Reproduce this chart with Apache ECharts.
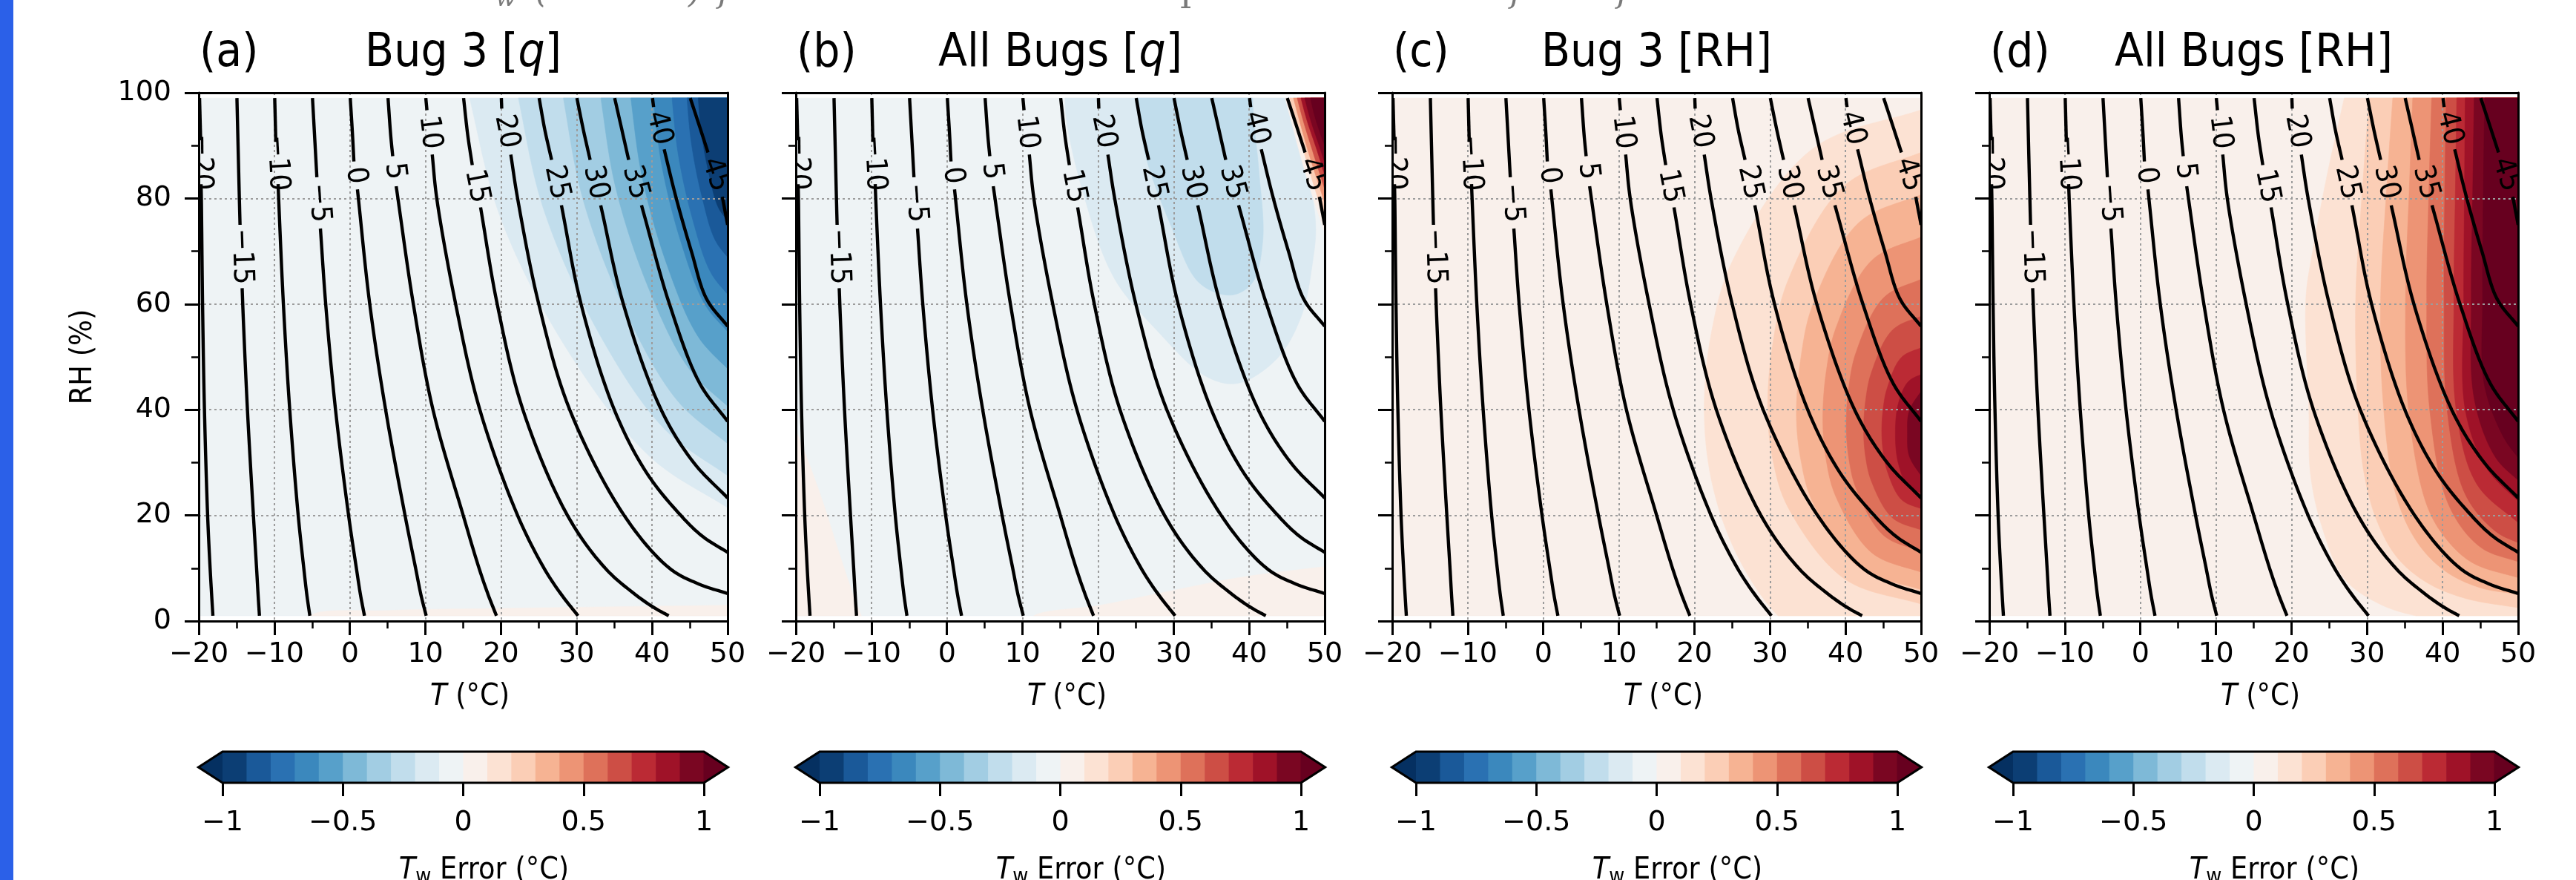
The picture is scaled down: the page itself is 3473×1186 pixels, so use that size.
<!DOCTYPE html>
<html>
<head>
<meta charset="utf-8">
<title>Tw error panels</title>
<script src="https://cdn.jsdelivr.net/npm/echarts@6.0.0/dist/echarts.min.js"></script>
<style>
html,body{margin:0;padding:0;background:#fff;}
#chart{width:3473px;height:1186px;}
</style>
</head>
<body>
<div id="chart"></div>
<script>
// ================= DATA =================
const panelLetters = ['(a)', '(b)', '(c)', '(d)'];
const panelNames = ['Bug 3 [{i|q}]', 'All Bugs [{i|q}]', 'Bug 3 [RH]', 'All Bugs [RH]'];
const T_RANGE = [-20, 50];
const RH_RANGE = [0, 100];
const FIELD_RH = [1, 99];
const T_INTERVAL = 10;
const RH_INTERVAL = 20;
const cbarLevels = [-1, -0.9, -0.8, -0.7, -0.6, -0.5, -0.4, -0.3, -0.2, -0.1, 0, 0.1, 0.2, 0.3, 0.4, 0.5, 0.6, 0.7, 0.8, 0.9, 1];
const cbarInterval = 0.5;

// Wet-bulb temperature isolines: [T, RH]; null = gap where the inline label sits
const twLevels = [-20, -15, -10, -5, 0, 5, 10, 15, 20, 25, 30, 35, 40, 45];
const tw_m20 = [[-19.9,99],[-19.75,91],null,[-19.7,82.7],[-19.66,80],[-19.5,60],[-19.25,40],[-18.83,20],[-18.5,10],[-18.3,5],[-18.13,1]];
const tw_m15 = [[-14.95,99],[-14.8,90],[-14.63,80],[-14.54,75],null,[-14.26,63],[-14.1,57],[-13.56,40],[-12.77,20],[-12.35,10],[-12.15,5],[-11.97,1]];
const tw_m10 = [[-9.95,99],[-9.8,90.7],null,[-9.5,82.7],[-9.4,79],[-8.8,60],[-7.96,40],[-6.84,20],[-6.1,10],[-5.7,5],[-5.3,1]];
const tw_m5 = [[-4.95,99],[-4.6,90],[-4.37,84],null,[-3.9,74.3],[-3.2,60],[-1.9,40],[-0.17,20],[0.86,10],[1.4,5],[1.93,1]];
const tw_0 = [[0.05,99],[0.35,92],[0.53,87],null,[1.0,81.7],[2.63,60],[4.73,40],[7.3,20],[8.7,10],[9.4,5],[10.1,1]];
const tw_5 = [[5.05,99],[5.4,92],[5.67,88],null,[6.13,82.3],[8.4,60],[11.0,40],[15.0,20],[17.1,10],[18.3,5],[19.4,1]];
const tw_10 = [[10.05,99],[10.2,96.7],null,[10.9,88.3],[11.5,80],[14.0,60],[17.2,40],[22.2,20],[25.7,10],[28.0,5],[30.2,1]];
const tw_15 = [[15.05,99],[15.6,92],[16.2,86.3],null,[17.3,78.3],[19.5,60],[22.9,40],[28.8,20],[33.8,10],[37.8,5],[40.3,2.5],[42.2,1]];
const tw_20 = [[20.05,99],[20.1,97],null,[21.3,88.3],[22.2,80],[25.0,60],[29.1,40],[36.3,20],[42.3,10],[46.2,7],[50,5.2]];
const tw_25 = [[25.05,99],[25.8,93],[26.7,87.3],null,[28.0,78.7],[30.6,60],[35.0,40],[39.3,28],[43.8,20],[46.7,16],[50,13]];
const tw_30 = [[30.05,99],[30.9,93],[31.8,87.3],null,[33.2,78.7],[36.2,60],[41.2,40],[45.5,30],[50,23.3]];
const tw_35 = [[35.05,99],[36.0,93],[36.9,87.3],null,[38.6,78.7],[42.3,60],[46.3,45],[50,37.8]];
const tw_40 = [[40.05,99],[40.2,97.3],null,[41.6,89.3],[43.2,80],[45.2,70],[47.2,61],[50,55.8]];
const tw_45 = [[45.05,99],[46.2,94],[47.4,88.7],null,[49.3,80.3],[50,75]];
const twLines = [tw_m20, tw_m15, tw_m10, tw_m5, tw_0, tw_5, tw_10, tw_15, tw_20, tw_25, tw_30, tw_35, tw_40, tw_45];

// Filled error contours. bin k = interval [-1+0.1k, -0.9+0.1k); -1 = below -1, 20 = above 1.
// Each entry: [bin, boundary curve [T,RH]..., straight closing corners]
const bgBin = [9, 9, 10, 10];
const fillA = [
  [10, [[-6,-1],[-5,1.2],[5,2.0],[20,2.4],[35,2.7],[50.5,3.0]], [[50.5,-1]]],
  [8, [[15.5,101],[19.95,76.3],[28.75,51.4],[39.65,31.2],[50.5,21]], [[50.5,101]]],
  [7, [[22,101],[25.61,78.1],[32.75,55.03],[41.6,36.42],[50.5,27]], [[50.5,101]]],
  [6, [[28,101],[30.84,79.9],[36.45,58.73],[43.4,41.64],[50.5,33]], [[50.5,101]]],
  [5, [[33,101],[35.19,82],[39.53,63.04],[44.9,47.74],[50.5,40]], [[50.5,101]]],
  [4, [[37,101],[38.68,84.1],[41.99,67.35],[46.1,53.84],[50.5,47]], [[50.5,101]]],
  [3, [[40,101],[41.29,86.2],[43.84,71.66],[47,59.93],[50.5,54]], [[50.5,101]]],
  [2, [[42.5,101],[43.47,88.3],[45.38,75.98],[47.75,66.03],[50.5,61]], [[50.5,101]]],
  [1, [[44.5,101],[45.21,90.4],[46.61,80.29],[48.35,72.13],[50.5,68]], [[50.5,101]]],
  [0, [[46,101],[46.52,92.5],[47.54,84.6],[48.8,78.2],[50.5,75]], [[50.5,101]]]
];
const fillB = [
  [10, [[-20.5,38],[-18.3,30],[-16.3,22],[-14.3,13],[-12.4,5],[-11,0],[-10.5,-1]], [[-20.5,-1]]],
  [10, [[10.5,-1],[11.5,1],[20.3,3],[29.6,5.7],[39,8.3],[50.5,10.4]], [[50.5,-1]]],
  [8, [[15.6,101],[15.8,95],[17.9,81.7],[22.1,65],[27.8,55],[34.3,46.3],[38.5,45],[43.7,49.7],[46.9,57.7],[48.4,68],[48.8,75],[47.6,86],[46,94],[45.3,101]], []],
  [7, [[24.8,101],[25.5,95],[26.3,88],[29.6,75],[33.4,64],[37.6,61.7],[40.4,64],[41.8,72],[41.3,85],[40.6,95],[40.4,101]], []],
  [10, [[44.4,101],[45.5,95],[47,87],[48.7,79],[50.5,71.5]], [[50.5,101]]],
  [12, [[45.0,101],[46.1,95],[47.5,87.5],[49.1,80],[50.5,74]], [[50.5,101]]],
  [14, [[45.5,101],[46.6,95],[48,88],[50.5,77]], [[50.5,101]]],
  [16, [[46.0,101],[47.1,95],[48.5,88.5],[50.5,79.5]], [[50.5,101]]],
  [18, [[46.5,101],[47.6,95],[49,89],[50.5,82]], [[50.5,101]]],
  [19, [[47.0,101],[48.1,95],[49.5,89],[50.5,84.5]], [[50.5,101]]],
  [20, [[47.8,101],[48.8,95],[50.5,88]], [[50.5,101]]]
];
const fillC = [
  [11, [[50.5,97],[35.65,89.4],[25.15,68.5],[22.28,54.8],[21.3,40],[22.28,26.5],[25.15,14],[29.7,3.2],[35.65,-5]], [[50.5,-12]]],
  [12, [[50.5,89],[39.85,82.4],[32.4,64.5],[30.4,52.7],[29.7,40],[30.4,30.4],[32.4,21.5],[39.85,8.0],[50.5,3]], []],
  [13, [[50.5,81],[41.75,75.4],[35.7,60],[34.1,49.9],[33.5,39],[34.1,30.4],[35.7,22.35],[41.75,10.2],[50.5,5.7]], []],
  [14, [[50.5,73],[43.5,68.3],[38.74,55.5],[37.44,47.1],[37,38],[37.44,30.5],[38.74,23.5],[43.5,12.9],[50.5,9]], []],
  [15, [[50.5,65],[45.05,61.2],[41.43,51],[40.44,44.3],[40.1,37],[40.44,30.8],[41.43,25],[45.05,16.2],[50.5,13]], []],
  [16, [[50.5,58],[46.2,55.05],[43.42,47],[42.66,41.7],[42.4,36],[42.66,31.1],[43.42,26.5],[46.2,19.55],[50.5,17]], []],
  [17, [[50.5,52],[47.4,49.9],[45.5,44],[44.98,40.1],[44.8,36],[44.98,32.1],[45.5,28.5],[47.4,23],[50.5,21]], []],
  [18, [[50.5,47],[48.3,45.3],[47.0,41.2],[46.6,35.5],[47.0,29.8],[48.3,25.5],[50.5,24]], []],
  [19, [[50.5,44.5],[48.45,39.8],[48.2,35.5],[48.45,31.2],[50.5,26.5]], []]
];
const fillD = [
  [11, [[27.3,101],[24.8,85],[22.8,70],[21.9,61],[22.3,40],[22.5,28],[24,18],[27,8],[32,3],[38,0.5],[44,-1]], [[50.5,-1],[50.5,101]]],
  [12, [[30.4,101],[29.4,82],[28.5,61],[28.8,40],[29.6,28],[31.3,19],[34,12],[37.9,7.3],[43,4.3],[50.5,2.4]], [[50.5,101]]],
  [13, [[33.5,101],[32.6,82],[31.8,61],[32.1,42],[33.8,24],[36.6,15],[40.3,9.5],[45,6.3],[50.5,5]], [[50.5,101]]],
  [14, [[36.1,101],[35.6,82],[35.1,61],[35.5,40],[37.9,22],[40.5,15.5],[44,11],[50.5,8]], [[50.5,101]]],
  [15, [[38.6,101],[38.2,82],[37.9,61],[38.3,40],[40.8,22],[45,14],[50.5,11]], [[50.5,101]]],
  [16, [[40.5,101],[40.3,82],[40.2,61],[40.6,40],[43,24],[47,17],[50.5,14.5]], [[50.5,101]]],
  [17, [[41.9,101],[41.7,82],[41.5,61],[41.8,40],[44.5,26],[50.5,18]], [[50.5,101]]],
  [18, [[43.0,101],[42.9,82],[42.8,61],[43.0,40],[45.8,29],[50.5,22]], [[50.5,101]]],
  [19, [[44.2,101],[44,82],[43.8,61],[44.2,42],[47,31],[50.5,26]], [[50.5,101]]],
  [20, [[45.6,101],[45.4,82],[45.3,61],[45.5,45],[48,35],[50.5,30]], [[50.5,101]]]
];
const panelFills = [fillA, fillB, fillC, fillD];

// ================= LAYOUT / STYLE =================
const FONT = 'DejaVu Sans';
const PL = [268, 1073, 1877, 2682];
const PW = 713, PT = 125, PH = 712;
const CB_TOP = 1013, CB_H = 42;
const TXT_SX = 0.92;   // the reference's lettering is slightly condensed

const RDBU_R = ['#053061','#2166ac','#4393c3','#92c5de','#d1e5f0','#f7f7f7','#fddbc7','#f4a582','#d6604d','#b2182b','#67001f'];
function hex2rgb(h) { return [1,3,5].map(i => parseInt(h.substr(i,2),16)); }
function cmap(t) {
  t = Math.min(1, Math.max(0, t));
  const s = t * (RDBU_R.length - 1);
  const i = Math.min(Math.floor(s), RDBU_R.length - 2);
  const f = s - i;
  const a = hex2rgb(RDBU_R[i]), b = hex2rgb(RDBU_R[i+1]);
  return 'rgb(' + a.map((v,j) => Math.round(v + (b[j]-v)*f)).join(',') + ')';
}
function binColor(k) { return k < 0 ? cmap(0) : (k >= 20 ? cmap(1) : cmap((k + 0.5) / 20)); }
function fmt(v) { return v < 0 ? '\u2212' + (-v) : String(v); }

// centripetal Catmull-Rom densification (pixel space)
function crPoint(p0, p1, p2, p3, u) {
  const d = (a, b) => Math.max(Math.pow(Math.hypot(b[0]-a[0], b[1]-a[1]), 0.5), 1e-4);
  const t0 = 0, t1 = t0 + d(p0,p1), t2 = t1 + d(p1,p2), t3 = t2 + d(p2,p3);
  const t = t1 + (t2 - t1) * u;
  const L = (a, b, ta, tb) => [(tb-t)/(tb-ta)*a[0] + (t-ta)/(tb-ta)*b[0], (tb-t)/(tb-ta)*a[1] + (t-ta)/(tb-ta)*b[1]];
  const A1 = L(p0,p1,t0,t1), A2 = L(p1,p2,t1,t2), A3 = L(p2,p3,t2,t3);
  const B1 = L(A1,A2,t0,t2), B2 = L(A2,A3,t1,t3);
  return L(B1,B2,t1,t2);
}
function spline(P, n) {
  n = n || 12;
  if (P.length < 3) return P.slice();
  const first = [2*P[0][0]-P[1][0], 2*P[0][1]-P[1][1]];
  const m = P.length;
  const last = [2*P[m-1][0]-P[m-2][0], 2*P[m-1][1]-P[m-2][1]];
  const E = [first].concat(P, [last]);
  const out = [];
  for (let i = 0; i < m - 1; i++) {
    for (let k = 0; k < n; k++) out.push(crPoint(E[i], E[i+1], E[i+2], E[i+3], k / n));
  }
  out.push(P[m-1]);
  return out;
}
function clipPoly(poly, x0, y0, x1, y1) {
  const edges = [
    [p => p[0] >= x0, (a,b) => [x0, a[1] + (x0-a[0])/(b[0]-a[0])*(b[1]-a[1])]],
    [p => p[0] <= x1, (a,b) => [x1, a[1] + (x1-a[0])/(b[0]-a[0])*(b[1]-a[1])]],
    [p => p[1] >= y0, (a,b) => [a[0] + (y0-a[1])/(b[1]-a[1])*(b[0]-a[0]), y0]],
    [p => p[1] <= y1, (a,b) => [a[0] + (y1-a[1])/(b[1]-a[1])*(b[0]-a[0]), y1]]
  ];
  let out = poly;
  for (const [inside, inter] of edges) {
    const inp = out; out = [];
    if (!inp.length) break;
    for (let i = 0; i < inp.length; i++) {
      const cur = inp[i], prev = inp[(i + inp.length - 1) % inp.length];
      const ci = inside(cur), pi = inside(prev);
      if (ci) { if (!pi) out.push(inter(prev, cur)); out.push(cur); }
      else if (pi) out.push(inter(prev, cur));
    }
  }
  return out;
}

// ================= OPTION =================
const grids = [], xAxes = [], yAxes = [], series = [], graphics = [];
const axisBlack = { color: '#000', width: 3 };

for (let p = 0; p < 4; p++) grids.push({ left: PL[p], top: PT, width: PW, height: PH });
for (let p = 0; p < 4; p++) grids.push({ left: PL[p] + 32, top: CB_TOP, width: 649, height: CB_H });

for (let p = 0; p < 4; p++) {
  xAxes.push({
    gridIndex: p, type: 'value', min: T_RANGE[0], max: T_RANGE[1], interval: T_INTERVAL, z: 3,
    axisLine: { show: true, onZero: false, lineStyle: axisBlack },
    axisTick: { show: true, length: 19, lineStyle: { color: '#000', width: 3 } },
    minorTick: { show: true, splitNumber: 2, length: 10, lineStyle: { color: '#000', width: 2.5 } },
    axisLabel: { fontSize: 38, fontFamily: FONT, color: '#000', margin: 26, formatter: fmt },
    splitLine: { show: true, lineStyle: { color: '#9c9c9c', width: 2, type: [3, 4] } }
  });
  xAxes.push({
    gridIndex: p, type: 'value', position: 'top', min: T_RANGE[0], max: T_RANGE[1], z: 3,
    axisLine: { show: true, onZero: false, lineStyle: axisBlack },
    axisTick: { show: false }, axisLabel: { show: false }, splitLine: { show: false }
  });
  yAxes.push({
    gridIndex: p, type: 'value', min: RH_RANGE[0], max: RH_RANGE[1], interval: RH_INTERVAL, z: 3,
    axisLine: { show: true, onZero: false, lineStyle: axisBlack },
    axisTick: { show: true, length: 19, lineStyle: { color: '#000', width: 3 } },
    minorTick: { show: true, splitNumber: 2, length: 10, lineStyle: { color: '#000', width: 2.5 } },
    axisLabel: { show: p === 0, fontSize: 38, fontFamily: FONT, color: '#000', margin: 37 },
    splitLine: { show: true, lineStyle: { color: '#9c9c9c', width: 2, type: [3, 4] } }
  });
  yAxes.push({
    gridIndex: p, type: 'value', position: 'right', min: RH_RANGE[0], max: RH_RANGE[1], z: 3,
    axisLine: { show: true, onZero: false, lineStyle: axisBlack },
    axisTick: { show: false }, axisLabel: { show: false }, splitLine: { show: false }
  });

  // filled contours
  const shapes = [[bgBin[p], null, null]].concat(panelFills[p]);
  series.push({
    type: 'custom', xAxisIndex: 2*p, yAxisIndex: 2*p, z: 1, silent: true, animation: false,
    data: shapes.map(() => [0, 50]),
    renderItem: function (params, api) {
      const sh = shapes[params.dataIndex];
      const c0 = api.coord([T_RANGE[0], FIELD_RH[1]]);
      const c1 = api.coord([T_RANGE[1], FIELD_RH[0]]);
      let pts;
      if (!sh[1]) {
        pts = [c0, [c1[0], c0[1]], c1, [c0[0], c1[1]]];
      } else {
        pts = spline(sh[1].map(q => api.coord(q)), 14);
        (sh[2] || []).forEach(q => pts.push(api.coord(q)));
        pts = clipPoly(pts, c0[0], c0[1], c1[0], c1[1]);
      }
      return { type: 'polygon', shape: { points: pts }, style: { fill: binColor(sh[0]), stroke: binColor(sh[0]), lineWidth: 0.6 } };
    }
  });

  // Tw isolines with inline labels
  series.push({
    type: 'custom', xAxisIndex: 2*p, yAxisIndex: 2*p, z: 5, clip: true, silent: true, animation: false,
    data: twLines.map(() => [0, 50]),
    renderItem: function (params, api) {
      const line = twLines[params.dataIndex];
      const segs = []; let cur = [];
      line.forEach(q => { if (q === null) { segs.push(cur); cur = []; } else cur.push(api.coord(q)); });
      segs.push(cur);
      const children = segs.filter(s => s.length > 1).map(s => ({
        type: 'polyline', shape: { points: spline(s, 12) },
        style: { stroke: '#000', lineWidth: 4.4, fill: null, lineJoin: 'round', lineCap: 'butt' }
      }));
      if (segs.length > 1) {
        const a = segs[0][segs[0].length - 1], b = segs[1][0];
        const cx = (a[0] + b[0]) / 2, cy = (a[1] + b[1]) / 2;
        const rot = -Math.atan2(b[1] - a[1], b[0] - a[0]);
        children.push({
          type: 'text', x: cx, y: cy, rotation: rot, scaleX: TXT_SX,
          style: { text: fmt(twLevels[params.dataIndex]), fontSize: 39, fontFamily: FONT, fill: '#000', align: 'center', verticalAlign: 'middle' }
        });
      }
      return { type: 'group', children: children };
    }
  });
}

for (let p = 0; p < 4; p++) {
  const gi = 4 + p;
  xAxes.push({
    gridIndex: gi, type: 'value', min: cbarLevels[0], max: cbarLevels[cbarLevels.length - 1], interval: cbarInterval,
    axisLine: { show: false }, splitLine: { show: false },
    axisTick: { show: true, length: 18, lineStyle: { color: '#000', width: 3 } },
    axisLabel: { fontSize: 38, fontFamily: FONT, color: '#000', margin: 35, formatter: fmt }
  });
  yAxes.push({ gridIndex: gi, type: 'value', min: 0, max: 1, show: false });
  const items = [];
  for (let k = -1; k <= 20; k++) items.push(k);
  items.push('outline');
  series.push({
    type: 'custom', xAxisIndex: 8 + p, yAxisIndex: 8 + p, z: 3, silent: true, animation: false,
    data: items.map(() => [0, 0.5]),
    renderItem: function (params, api) {
      const k = items[params.dataIndex];
      const lo = cbarLevels[0], hi = cbarLevels[cbarLevels.length - 1];
      const xl = api.coord([lo, 0])[0], xr = api.coord([hi, 0])[0];
      const yt = api.coord([lo, 1])[1], yb = api.coord([lo, 0])[1];
      const ext = 0.05 * (xr - xl), ym = (yt + yb) / 2;
      if (k === 'outline') {
        return { type: 'polygon', shape: { points: [[xl - ext, ym], [xl, yt], [xr, yt], [xr + ext, ym], [xr, yb], [xl, yb]] },
          style: { fill: null, stroke: '#000', lineWidth: 3.2, lineJoin: 'miter' } };
      }
      if (k < 0) return { type: 'polygon', shape: { points: [[xl - ext, ym], [xl + 0.5, yt], [xl + 0.5, yb]] }, style: { fill: binColor(-1) } };
      if (k >= 20) return { type: 'polygon', shape: { points: [[xr + ext, ym], [xr - 0.5, yt], [xr - 0.5, yb]] }, style: { fill: binColor(20) } };
      const a = api.coord([cbarLevels[k], 1]), b = api.coord([cbarLevels[k + 1], 0]);
      return { type: 'rect', shape: { x: a[0], y: a[1], width: b[0] - a[0] + 0.7, height: b[1] - a[1] }, style: { fill: binColor(k) } };
    }
  });
}

// texts
graphics.push({ type: 'rect', x: 0, y: 0, shape: { width: 18, height: 1186 }, style: { fill: '#2b60e8' } });
for (let p = 0; p < 4; p++) {
  const cx = PL[p] + PW / 2;
  graphics.push({ type: 'text', x: PL[p] + 1, y: 73, scaleX: TXT_SX, style: { text: panelLetters[p], fontSize: 62, fontFamily: FONT, fill: '#000', align: 'left', verticalAlign: 'middle' } });
  graphics.push({ type: 'text', x: cx, y: 73, scaleX: TXT_SX, style: { text: panelNames[p], fontSize: 62, fontFamily: FONT, fill: '#000', align: 'center', verticalAlign: 'middle',
    rich: { i: { fontStyle: 'italic', fontSize: 62, fontFamily: FONT, fill: '#000' } } } });
  graphics.push({ type: 'text', x: cx + 9, y: 940, scaleX: TXT_SX, style: { text: '{i|T} (\u00b0C)', fontSize: 40, fontFamily: FONT, fill: '#000', align: 'center', verticalAlign: 'middle',
    rich: { i: { fontStyle: 'italic', fontSize: 40, fontFamily: FONT, fill: '#000' } } } });
  graphics.push({ type: 'text', x: cx + 28, y: 1174, scaleX: TXT_SX, style: { text: '{i|T}{s|w} Error (\u00b0C)', fontSize: 40, fontFamily: FONT, fill: '#000', align: 'center', verticalAlign: 'middle',
    rich: { i: { fontStyle: 'italic', fontSize: 40, fontFamily: FONT, fill: '#000', lineHeight: 46 },
            s: { fontSize: 28, fontFamily: FONT, fill: '#000', lineHeight: 46, verticalAlign: 'bottom' } } } });
}
graphics.push({ type: 'text', x: 113, y: PT + PH / 2, rotation: Math.PI / 2, scaleX: TXT_SX, style: { text: 'RH (%)', fontSize: 40, fontFamily: FONT, fill: '#000', align: 'center', verticalAlign: 'middle' } });
// cut-off caption line above the figure
const capStyle = { fontSize: 44, fontFamily: 'DejaVu Serif', fontStyle: 'italic', fill: '#7a7a7a', align: 'left', verticalAlign: 'bottom' };
graphics.push({ type: 'text', x: 668, y: 16, style: Object.assign({}, capStyle, { text: 'w', fontSize: 32 }) });
graphics.push({ type: 'text', x: 722, y: 14, style: Object.assign({}, capStyle, { text: '(' }) });
graphics.push({ type: 'text', x: 928, y: 14, style: Object.assign({}, capStyle, { text: ')' }) });
graphics.push({ type: 'text', x: 968, y: 14, style: Object.assign({}, capStyle, { text: 'f' }) });
graphics.push({ type: 'text', x: 1584, y: 22, style: Object.assign({}, capStyle, { text: 'T', fontStyle: 'normal' }) });
graphics.push({ type: 'text', x: 2036, y: 14, style: Object.assign({}, capStyle, { text: 'f' }) });
graphics.push({ type: 'text', x: 2180, y: 14, style: Object.assign({}, capStyle, { text: 'f' }) });

const chart = echarts.init(document.getElementById('chart'), null, { renderer: 'canvas' });
chart.setOption({
  animation: false,
  backgroundColor: '#fff',
  grid: grids, xAxis: xAxes, yAxis: yAxes, series: series, graphic: graphics
});
</script>
</body>
</html>
